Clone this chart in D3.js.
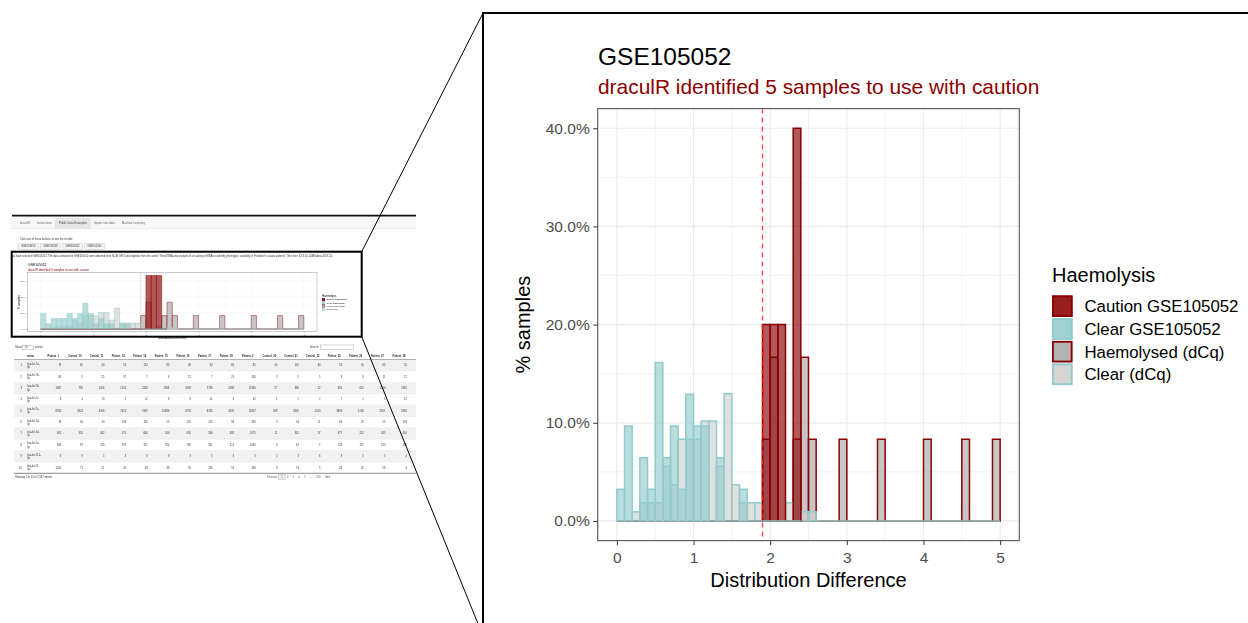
<!DOCTYPE html>
<html>
<head>
<meta charset="utf-8">
<script src="https://cdn.jsdelivr.net/npm/d3@7"></script>
<style>
  html, body { margin: 0; padding: 0; background: #fff; }
  svg { display: block; font-family: "Liberation Sans", Arial, Helvetica, sans-serif; }
</style>
</head>
<body>
<svg id="fig" width="1248" height="623"></svg>
<script>
// ---------------- data ----------------
const binWidth = 0.1;

// left edges of the histogram bins (Distribution Difference units)
const dcqBins = [0.0,0.1,0.2,0.3,0.4,0.5,0.6,0.7,0.8,0.9,1.0,1.1,1.2,1.3,1.4,1.5,1.6,1.7,1.8,1.9,
                 2.0,2.1,2.2,2.3,2.4,2.5,2.6,2.7,2.8,2.9,3.0,3.1,3.2,3.3,3.4,3.5,3.6,3.7,3.8,3.9,
                 4.0,4.1,4.2,4.3,4.4,4.5,4.6,4.7,4.8,4.9];
const gseBins = [0.0,0.1,0.2,0.3,0.4,0.5,0.6,0.7,0.8,0.9,1.0,1.1,1.2,1.3,1.4,1.5,1.6,1.7,1.8,1.9,
                 2.0,2.1,2.2,2.3];

// % of samples per bin
const haemolysedDcq = [0,0,0,0,0,0,0,0,0,0, 0,0,0,0,0,0,0,0,0,8.33,
                       16.67,0,0,8.33,16.67,8.33,0,0,0,8.33, 0,0,0,0,8.33,0,0,0,0,0,
                       8.33,0,0,0,0,8.33,0,0,0,8.33];
const clearDcq = [0,0,0.93,1.85,1.85,1.85,5.56,3.70,8.33,8.33, 8.33,10.19,10.19,5.56,12.96,3.70,1.85,1.85,1.85,0,
                  0,0,1.85,0,0.93,0.93,0,0,0,0, 0,0,0,0,0,0,0,0,0,0,
                  0,0,0,0,0,0,0,0,0,0];
const cautionGse = [0,0,0,0,0,0,0,0,0,0, 0,0,0,0,0,0,0,0,0,20, 20,20,0,40];
const clearGse = [3.23,9.68,0,6.45,3.23,16.13,6.45,9.68,3.23,12.90, 9.68,9.68,0,6.45,0,0,3.23,0,0,0, 0,0,0,0];

// values shown in the small app preview
const thumbCautionGse = [0,0,0,0,0,0,0,0,0,0, 0,0,0,0,0,0,0,0,0,0, 33.3,33.3,33.3,0];
const thumbClearGse = [9.7,3.2,6.5,6.5,6.5,9.7,6.5,9.7,16.1,9.7, 3.2,6.5,3.2,3.2,0,3.2,3.2,0,0,0, 0,0,0,0];
const thumbClearDcq = [0,0,1.0,1.9,1.9,1.9,5.6,3.7,8.3,8.3, 8.3,10.2,10.2,5.6,13.0,3.7,3.7,3.7,3.7,0,
                       0,0,1.9,0,0.9,0.9,0,0,0,0, 0,0,0,0,0,0,0,0,0,0, 0,0,0,0,0,0,0,0,0,0];

const threshold = 1.9;
const xTicks = [0, 1, 2, 3, 4, 5];
const xMinor = [0.5, 1.5, 2.5, 3.5, 4.5];
const yTicks = [0, 10, 20, 30, 40];
const yMinor = [5, 15, 25, 35];
const thumbYTicks = [0, 10, 20, 30];
const thumbYMinor = [5, 15, 25];

const legendLabels = ["Caution GSE105052", "Clear GSE105052", "Haemolysed (dCq)", "Clear (dCq)"];

// app preview texts
const tabLabels = ["draculR", "Instructions", "Public Data Examples", "Import new data", "Machine Learning"];
const datasetButtons = ["GSE153813", "GSE118038", "GSE105052", "GSE151341"];
const tableColumns = ["Patient_1","Control_10","Control_11","Patient_13","Patient_14","Patient_15","Patient_16",
                      "Patient_17","Patient_18","Patient_2","Control_20","Control_21","Control_22","Patient_25",
                      "Patient_26","Patient_27","Patient_28"];
const mirnaNames = ["hsa-let-7a-3p","hsa-let-7b-3p","hsa-let-7b-5p","hsa-let-7c-3p","hsa-let-7c-5p",
                    "hsa-let-7d-3p","hsa-let-7d-5p","hsa-let-7e-5p","hsa-let-7f-1-3p","hsa-let-7f-5p"];
const tableRows = [
  [78,65,40,15,114,85,48,30,60,85,40,110,60,51,45,65,55],
  [80,5,25,57,7,6,15,7,25,130,3,5,5,8,3,11,12],
  [1807,785,1206,2141,2208,1903,1699,2739,2080,11996,27,380,52,965,610,1500,1965],
  [8,4,15,2,12,8,9,15,6,62,1,2,2,7,2,5,12],
  [8850,3324,6166,7615,7409,10686,4176,6035,5837,11807,508,8295,1050,3809,1206,3561,5356],
  [78,30,40,239,135,55,135,135,98,263,3,43,11,64,25,55,103],
  [601,355,402,570,600,500,605,560,485,1075,11,341,57,377,212,345,454],
  [609,97,145,237,311,254,196,321,212,5036,8,64,7,118,147,413,145],
  [6,9,5,4,6,8,3,5,6,3,2,3,6,9,3,5,4],
  [1250,71,51,40,38,48,36,130,55,198,3,73,5,28,31,58,4]
];
const pageLabels = ["Previous", "1", "2", "3", "4", "5", "\u2026", "259", "Next"];

// ---------------- styles ----------------
const DARKRED = "#8b0000", TEAL = "#92cbcb";
const styles = {
  caution:    { fill: DARKRED,   stroke: DARKRED },
  clearGse:   { fill: TEAL,      stroke: TEAL },
  haemolysed: { fill: "#a8a8a8", stroke: DARKRED },
  clearDcq:   { fill: "#cfcfcf", stroke: TEAL }
};
const legendStyles = [styles.caution, styles.clearGse, styles.haemolysed, styles.clearDcq];
const FILL_ALPHA = 0.65;

const svg = d3.select("#fig");
svg.append("rect").attr("width", 1248).attr("height", 623).attr("fill", "#fff");
const defs = svg.append("defs");
defs.append("filter").attr("id", "soft").attr("x", "-5%").attr("y", "-5%").attr("width", "110%").attr("height", "110%")
  .append("feGaussianBlur").attr("stdDeviation", 0.35);

// ---------------- histogram chart ----------------
let clipCount = 0;
function drawChart(g, o) {
  const x = d3.scaleLinear().domain([-0.25, 5.25]).range(o.xRange);
  const y = d3.scaleLinear().domain(o.yDomain).range(o.yRange);
  const [left, right] = x.range();
  const [bottom, top] = y.range();

  g.append("rect").attr("x", left).attr("y", top).attr("width", right - left).attr("height", bottom - top)
    .attr("fill", "#fff");

  const grid = g.append("g").attr("fill", "none").attr("stroke", "#ebebeb");
  grid.selectAll(".vmin").data(xMinor).join("line")
    .attr("x1", d => x(d)).attr("x2", d => x(d)).attr("y1", top).attr("y2", bottom).attr("stroke-width", o.gridMinor);
  grid.selectAll(".hmin").data(o.yMinor).join("line")
    .attr("y1", d => y(d)).attr("y2", d => y(d)).attr("x1", left).attr("x2", right).attr("stroke-width", o.gridMinor);
  grid.selectAll(".vmaj").data(xTicks).join("line")
    .attr("x1", d => x(d)).attr("x2", d => x(d)).attr("y1", top).attr("y2", bottom).attr("stroke-width", o.gridMajor);
  grid.selectAll(".hmaj").data(o.yTicks).join("line")
    .attr("y1", d => y(d)).attr("y2", d => y(d)).attr("x1", left).attr("x2", right).attr("stroke-width", o.gridMajor);

  const clipId = "panel" + (clipCount++);
  defs.append("clipPath").attr("id", clipId).append("rect")
    .attr("x", left).attr("y", top).attr("width", right - left).attr("height", bottom - top);
  const bars = g.append("g").attr("clip-path", `url(#${clipId})`);

  // each bin as a closed path so that empty bins still show their outline on the baseline
  o.series.forEach(s => {
    bars.append("g").selectAll("path")
      .data(s.values.map((v, i) => ({ x0: s.bins[i], v })))
      .join("path")
      .attr("d", d => {
        const x0 = x(d.x0), x1 = x(d.x0 + binWidth), y0 = y(0), y1 = y(d.v);
        return `M${x0},${y0}H${x1}V${y1}H${x0}Z`;
      })
      .attr("fill", s.style.fill).attr("fill-opacity", FILL_ALPHA)
      .attr("stroke", s.style.stroke).attr("stroke-width", o.barStroke);
  });

  bars.append("line")
    .attr("x1", x(threshold)).attr("x2", x(threshold)).attr("y1", top).attr("y2", bottom)
    .attr("stroke", "#ff2020").attr("stroke-opacity", 0.8)
    .attr("stroke-width", o.thresholdWidth).attr("stroke-dasharray", o.dash);

  g.append("rect").attr("x", left).attr("y", top).attr("width", right - left).attr("height", bottom - top)
    .attr("fill", "none").attr("stroke", "#555").attr("stroke-width", o.borderWidth);

  // axes
  const xAxis = g.append("g").attr("transform", `translate(0,${bottom})`)
    .call(d3.axisBottom(x).tickValues(xTicks).tickSize(o.tickLen).tickPadding(o.xLabelGap).tickFormat(d3.format("d")));
  const yAxis = g.append("g").attr("transform", `translate(${left},0)`)
    .call(d3.axisLeft(y).tickValues(o.yTicks).tickSize(o.tickLen).tickPadding(o.yLabelGap).tickFormat(o.fmt));
  [xAxis, yAxis].forEach(a => {
    a.select(".domain").remove();
    a.selectAll(".tick line").attr("stroke", "#333").attr("stroke-width", o.tickWidth);
    a.selectAll(".tick text").attr("fill", "#4d4d4d").style("font-size", o.tickFont + "px")
      .style("font-family", "Liberation Sans, Arial, sans-serif");
  });
  xAxis.selectAll(".tick text").attr("dy", "0.72em");

  // titles
  g.append("text").attr("x", o.title.x).attr("y", o.title.y).text("GSE105052")
    .style("font-size", o.title.size + "px").attr("fill", "#000");
  g.append("text").attr("x", o.title.x).attr("y", o.subtitle.y).text("draculR identified 5 samples to use with caution")
    .style("font-size", o.subtitle.size + "px").attr("fill", DARKRED);
  g.append("text").attr("x", (left + right) / 2).attr("y", o.xTitle.y).attr("text-anchor", "middle")
    .text("Distribution Difference").style("font-size", o.xTitle.size + "px").attr("fill", "#000");
  g.append("text").attr("transform", `translate(${o.yTitle.x},${(top + bottom) / 2}) rotate(-90)`)
    .attr("text-anchor", "middle").text("% samples").style("font-size", o.yTitle.size + "px").attr("fill", "#000");

  // legend (both histogram layers contribute a key, so each key fill is laid down twice)
  const L = o.legend;
  const lg = g.append("g");
  lg.append("text").attr("x", L.x).attr("y", L.titleY).text("Haemolysis")
    .style("font-size", L.titleSize + "px").attr("fill", "#000");
  legendLabels.forEach((lab, i) => {
    const ky = L.top + i * L.step;
    const st = legendStyles[i];
    for (let k = 0; k < 2; k++) {
      lg.append("rect").attr("x", L.x).attr("y", ky).attr("width", L.keyW).attr("height", L.keyH)
        .attr("fill", st.fill).attr("fill-opacity", FILL_ALPHA).attr("stroke", "none");
    }
    lg.append("rect").attr("x", L.x + L.stroke / 2).attr("y", ky + L.stroke / 2)
      .attr("width", L.keyW - L.stroke).attr("height", L.keyH - L.stroke)
      .attr("fill", "none").attr("stroke", st.stroke).attr("stroke-width", L.stroke);
    lg.append("text").attr("x", L.labelX).attr("y", ky + L.keyH / 2).attr("dy", "0.36em").text(lab)
      .style("font-size", L.labelSize + "px").attr("fill", "#000");
  });
}

// ---------------- app preview (left) ----------------
const thumbClip = defs.append("clipPath").attr("id", "thumbArea");
thumbClip.append("rect").attr("x", 10).attr("y", 216).attr("width", 406).attr("height", 270);
const preview = svg.append("g").attr("clip-path", "url(#thumbArea)").attr("filter", "url(#soft)");

// navigation tabs
preview.append("rect").attr("x", 10).attr("y", 217).attr("width", 406).attr("height", 11.5).attr("fill", "#f7f7f7");
preview.append("line").attr("x1", 10).attr("x2", 416).attr("y1", 228.5).attr("y2", 228.5)
  .attr("stroke", "#ddd").attr("stroke-width", 0.5);
let tx = 20;
tabLabels.forEach((t, i) => {
  const txt = preview.append("text").attr("x", tx).attr("y", 224.2).text(t)
    .style("font-size", "2.9px").attr("fill", "#666");
  const w = txt.node().getComputedTextLength();
  if (i === 2) {
    preview.insert("rect", "text").attr("x", tx - 3).attr("y", 218.8).attr("width", w + 6).attr("height", 9.7)
      .attr("fill", "#e6e6e6").attr("stroke", "#d0d0d0").attr("stroke-width", 0.4);
    txt.attr("fill", "#444");
  }
  tx += w + 7;
});

preview.append("text").attr("x", 20).attr("y", 240.2).text("Click one of these buttons to see the results:")
  .style("font-size", "2.7px").attr("fill", "#333");
let bx = 18.3;
datasetButtons.forEach(b => {
  const txt = preview.append("text").attr("x", bx + 3).attr("y", 247.4).text(b)
    .style("font-size", "2.6px").attr("fill", "#333");
  const w = txt.node().getComputedTextLength();
  preview.insert("rect", "text").attr("x", bx).attr("y", 243.4).attr("width", w + 6).attr("height", 6.2).attr("rx", 0.8)
    .attr("fill", "#f4f4f4").attr("stroke", "#c0c0c0").attr("stroke-width", 0.45);
  bx += w + 8;
});

preview.append("text").attr("x", 12).attr("y", 256.6)
  .text("ou have selected GSE105052.  The data contained in GSE105052 were obtained from NCBI GEO and originate from the article \u201cSmall RNA-seq analysis of circulating miRNAs to identify phenotypic variability in Friedreich\u2019s ataxia patients\u201d. See here (DOI:10.1038/sdata.2018.21).")
  .style("font-size", "2.62px").attr("fill", "#333");

// small chart
drawChart(preview.append("g"), {
  xRange: [27.5, 317], yDomain: [-1.67, 35], yRange: [331.7, 272.7],
  yTicks: thumbYTicks, yMinor: thumbYMinor, fmt: d => d + "%",
  series: [
    { bins: dcqBins, values: haemolysedDcq, style: styles.haemolysed },
    { bins: dcqBins, values: thumbClearDcq, style: styles.clearDcq },
    { bins: gseBins, values: thumbCautionGse, style: styles.caution },
    { bins: gseBins, values: thumbClearGse, style: styles.clearGse }
  ],
  tickLen: 1, tickWidth: 0.3, tickFont: 2.4, xLabelGap: 1.6, yLabelGap: 1.2,
  title: { x: 28, y: 266.3, size: 3.4 }, subtitle: { y: 271.4, size: 2.9 },
  xTitle: { y: 339.3, size: 2.9 }, yTitle: { x: 20, size: 2.9 },
  legend: { x: 322, titleY: 296.6, titleSize: 2.8, top: 298.2, step: 3.2, keyW: 3, keyH: 3,
            labelX: 326.6, labelSize: 2.2, stroke: 0.35 },
  barStroke: 0.45, gridMajor: 0.3, gridMinor: 0.15, dash: "1.4,1.1", thresholdWidth: 0.35, borderWidth: 0.3
});

// data table
preview.append("text").attr("x", 15).attr("y", 348.4).text("Show").style("font-size", "2.7px").attr("fill", "#333");
preview.append("rect").attr("x", 22.5).attr("y", 345.2).attr("width", 11).attr("height", 4.6)
  .attr("fill", "#fff").attr("stroke", "#999").attr("stroke-width", 0.4);
preview.append("text").attr("x", 24.5).attr("y", 348.4).text("10").style("font-size", "2.6px").attr("fill", "#333");
preview.append("text").attr("x", 35).attr("y", 348.4).text("entries").style("font-size", "2.7px").attr("fill", "#333");
preview.append("text").attr("x", 319).attr("y", 348.4).attr("text-anchor", "end").text("Search:")
  .style("font-size", "2.7px").attr("fill", "#333");
preview.append("rect").attr("x", 320.5).attr("y", 345).attr("width", 33).attr("height", 4.8)
  .attr("fill", "#fff").attr("stroke", "#999").attr("stroke-width", 0.4);

const colX = d3.scalePoint().domain(tableColumns).range([53.3, 399]);
const rowY = d3.scaleBand().domain(d3.range(tableRows.length)).range([359.6, 473.3]);
const table = preview.append("g");
table.append("text").attr("x", 27).attr("y", 357).text("mirna").style("font-size", "2.6px")
  .attr("font-weight", "bold").attr("fill", "#222");
table.selectAll(".hdr").data(tableColumns).join("text")
  .attr("x", d => colX(d)).attr("y", 357).attr("text-anchor", "middle").text(d => d)
  .style("font-size", "2.6px").attr("font-weight", "bold").attr("fill", "#222");
table.append("line").attr("x1", 14).attr("x2", 416).attr("y1", 359.6).attr("y2", 359.6)
  .attr("stroke", "#222").attr("stroke-width", 0.6);
tableRows.forEach((row, i) => {
  const y0 = rowY(i), h = rowY.bandwidth(), yc = y0 + h / 2;
  if (i % 2 === 0) table.append("rect").attr("x", 14).attr("y", y0).attr("width", 402).attr("height", h).attr("fill", "#f1f1f1");
  table.append("line").attr("x1", 14).attr("x2", 416).attr("y1", y0 + h).attr("y2", y0 + h)
    .attr("stroke", "#d8d8d8").attr("stroke-width", 0.35);
  table.append("text").attr("x", 22).attr("y", yc + 0.9).attr("text-anchor", "end").text(i + 1)
    .style("font-size", "2.6px").attr("fill", "#333");
  const name = mirnaNames[i], cut = name.lastIndexOf("-") + 1;
  table.append("text").attr("x", 27).attr("y", yc - 0.6).text(name.slice(0, cut)).style("font-size", "2.6px").attr("fill", "#333");
  table.append("text").attr("x", 27).attr("y", yc + 2.7).text(name.slice(cut)).style("font-size", "2.6px").attr("fill", "#333");
  row.forEach((v, j) => {
    table.append("text").attr("x", colX(tableColumns[j]) + 8).attr("y", yc + 0.9).attr("text-anchor", "end")
      .text(v).style("font-size", "2.6px").attr("fill", "#333");
  });
});
table.append("line").attr("x1", 14).attr("x2", 416).attr("y1", 473.3).attr("y2", 473.3)
  .attr("stroke", "#222").attr("stroke-width", 0.5);
preview.append("text").attr("x", 15).attr("y", 478.4).text("Showing 1 to 10 of 2,587 entries")
  .style("font-size", "2.6px").attr("fill", "#333");
let px = 267;
pageLabels.forEach(p => {
  const txt = preview.append("text").attr("x", px).attr("y", 478.4).text(p).style("font-size", "2.6px").attr("fill", "#555");
  const w = txt.node().getComputedTextLength();
  if (p === "1") {
    preview.insert("rect", "text").attr("x", px - 2.5).attr("y", 474.6).attr("width", w + 5).attr("height", 5)
      .attr("fill", "#eee").attr("stroke", "#aaa").attr("stroke-width", 0.4);
  }
  px += w + 4.2;
});

// frame of the preview, highlight box and zoom connectors
svg.append("line").attr("x1", 12).attr("x2", 416).attr("y1", 215.6).attr("y2", 215.6)
  .attr("stroke", "#111").attr("stroke-width", 1.6);
svg.append("rect").attr("x", 11.7).attr("y", 251.7).attr("width", 350).attr("height", 85)
  .attr("fill", "none").attr("stroke", "#000").attr("stroke-width", 2);
svg.append("line").attr("x1", 361.7).attr("y1", 251.7).attr("x2", 483).attr("y2", 13)
  .attr("stroke", "#000").attr("stroke-width", 1);
svg.append("line").attr("x1", 361.7).attr("y1", 336.7).attr("x2", 483).attr("y2", 636)
  .attr("stroke", "#000").attr("stroke-width", 1);

// zoomed view
svg.append("rect").attr("x", 483).attr("y", 13).attr("width", 770).attr("height", 620)
  .attr("fill", "#fff").attr("stroke", "#000").attr("stroke-width", 2);

drawChart(svg.append("g"), {
  xRange: [597.7, 1019.3], yDomain: [-2, 42], yRange: [540.6, 108.6],
  yTicks: yTicks, yMinor: yMinor, fmt: d => d.toFixed(1) + "%",
  series: [
    { bins: dcqBins, values: haemolysedDcq, style: styles.haemolysed },
    { bins: dcqBins, values: clearDcq, style: styles.clearDcq },
    { bins: gseBins, values: cautionGse, style: styles.caution },
    { bins: gseBins, values: clearGse, style: styles.clearGse }
  ],
  tickLen: 4.5, tickWidth: 1, tickFont: 15.5, xLabelGap: 6.5, yLabelGap: 3.5,
  title: { x: 598, y: 64.5, size: 24.5 }, subtitle: { y: 94, size: 20.9 },
  xTitle: { y: 586.5, size: 20 }, yTitle: { x: 529.5, size: 20 },
  legend: { x: 1052, titleY: 281.5, titleSize: 20, top: 295.5, step: 22.7, keyW: 20.5, keyH: 21.5,
            labelX: 1084.5, labelSize: 16.8, stroke: 1.8 },
  barStroke: 1.5, gridMajor: 1.2, gridMinor: 0.6, dash: "5,4", thresholdWidth: 1.4, borderWidth: 1.1
});
</script>
</body>
</html>
